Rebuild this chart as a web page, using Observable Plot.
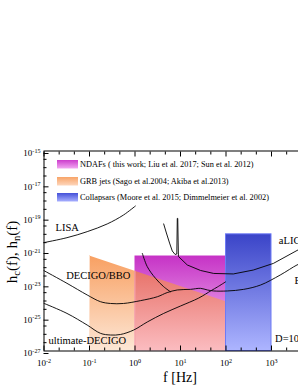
<!DOCTYPE html>
<html><head><meta charset="utf-8">
<script src="https://cdn.jsdelivr.net/npm/d3@7"></script>
<script src="https://cdn.jsdelivr.net/npm/@observablehq/plot@0.6"></script>
<style>
html,body{margin:0;padding:0;background:#fff;overflow:hidden;width:298px;height:385px}
#chart{position:relative;width:298px;height:385px;overflow:hidden}
#chart svg{max-width:none !important;width:330px !important;height:385px !important;display:block}
</style></head><body><div id="chart"></div>
<script>
// ---- detector sensitivity curves (f in Hz, strain) ----
const lisaF = [0.01, 0.032, 0.089, 0.245, 0.56, 1.02];
const lisaH = [3.2e-21, 6.3e-21, 1.45e-20, 4.2e-20, 1.45e-19, 5.0e-19];

const decigoF = [0.01, 0.032, 0.089, 0.174, 0.29, 0.56, 1.32, 3.1, 5.1, 8.5, 16.6, 27.5, 38.9, 53.7, 107, 245, 575, 1550, 3630, 4470];
const decigoH = [6.6e-23, 1.15e-23, 2.3e-24, 9.1e-25, 7.1e-25, 7.1e-25, 1.05e-24, 1.8e-24, 3.2e-24, 4.6e-24, 5.0e-24, 5.75e-24, 4.6e-24, 4.0e-24, 4.0e-24, 5.0e-24, 9.1e-24, 3.6e-23, 1.45e-22, 1.8e-22];

const etLowF = [1.45, 1.86, 2.82, 4.27, 6.0];
const etLowH = [7.2e-22, 1.15e-22, 2.3e-23, 7.2e-24, 3.6e-24];

const uDecigoF = [0.01, 0.032, 0.089, 0.174, 0.29, 0.48, 0.93, 1.86, 4.27, 10, 25.1, 47.9, 64.6, 97.7];
const uDecigoH = [7.2e-25, 1.8e-25, 3.6e-26, 1.15e-26, 9.1e-27, 9.8e-27, 1.8e-26, 5.5e-26, 1.8e-25, 5.0e-25, 1.5e-24, 4.3e-24, 6.9e-24, 1.4e-23];

const aligoF = [4.27, 4.9, 5.75, 6.6, 7.6, 8.3, 8.5, 8.7, 9.0, 14.1, 27.5, 53.7, 145, 398, 1100, 3630, 4570];
const aligoH = [4.2e-20, 1.2e-20, 3.0e-21, 1.0e-21, 6.2e-22, 6.6e-22, 9.1e-20, 9.1e-20, 4.7e-22, 1.45e-22, 6.8e-23, 4.5e-23, 4.2e-23, 7.2e-23, 1.8e-22, 1.07e-21, 1.5e-21];

// ---- source regions ----
const hBottom = 1e-27;
const grbF = [0.1, 1, 100];
const grbTop = [5e-22, 6.1e-23, 9e-25];
const ndafF = [1, 100];
const ndafTop = 5e-22;
const collapsarF = [100, 1000];
const collapsarTop = 1e-20;

// ---- tick values ----
const xMajor = [1e-2, 1e-1, 1, 10, 100, 1000, 1e4];
const yMajor = [1e-15, 1e-17, 1e-19, 1e-21, 1e-23, 1e-25, 1e-27];

// ---- annotations ----
const labelText = ["LISA", "DECIGO/BBO", "ultimate-DECIGO", "aLIGO", "ET", "D=10 kpc"];
const labelF = [0.0179, 0.0308, 0.0126, 1450, 3200, 1200];
const labelH = [2.6e-20, 3.2e-23, 4.0e-27, 4.0e-21, 1.6e-23, 5.8e-27];

const legendText = [
  "NDAFs ( this work; Liu et al. 2017; Sun et al. 2012)",
  "GRB jets (Sago et al.2004; Akiba et al.2013)",
  "Collapsars (Moore et al. 2015; Dimmelmeier et al. 2002)"
];

const xMinor = [];
for (let n = -2; n <= 3; n++) { xMinor.push(Math.pow(10, n + 1/3), Math.pow(10, n + 2/3)); }
const yMinor = [];
for (let k = -15; k >= -27; k -= 0.5) { if (!(Number.isInteger(k) && Math.abs(k) % 2 === 1)) yMinor.push(Math.pow(10, k)); }

const toRows = (F, H) => F.map((f, i) => ({f, h: H[i]}));
const expFmt = d => String(Math.round(Math.log10(d)));
const serif = "Liberation Serif, Times New Roman, serif";

const grbRows = toRows(grbF, grbTop);
const lineStyle = {x: "f", y: "h", stroke: "black", strokeWidth: 0.9};

const svg = Plot.plot({
  width: 330, height: 385,
  marginTop: 150.5, marginBottom: 34.5, marginLeft: 43.5, marginRight: 13.5,
  style: {fontFamily: serif, fontSize: "9px", background: "white", color: "black"},
  x: {type: "log", domain: [1e-2, 1e4]},
  y: {type: "log", domain: [1e-27, 1e-15]},
  marks: [
    Plot.rect([0], {x1: ndafF[0], x2: ndafF[1], y1: hBottom, y2: ndafTop, fill: "url(#gMag)"}),
    Plot.areaY(grbRows.filter(d => d.f <= 1), {x: "f", y1: hBottom, y2: "h", fill: "url(#gOr)"}),
    Plot.areaY(grbRows.filter(d => d.f >= 1), {x: "f", y1: hBottom, y2: "h", fill: "url(#gSal)"}),
    Plot.ruleX([grbF[0]], {y1: hBottom, y2: grbTop[0], stroke: "#fde0cc", strokeWidth: 1}),
    Plot.ruleX([ndafF[0]], {y1: hBottom, y2: grbTop[1], stroke: "#f6a0a8", strokeWidth: 1}),
    Plot.rect([0], {x1: collapsarF[0], x2: collapsarF[1], y1: hBottom, y2: collapsarTop, fill: "url(#gBlue)", stroke: "#6d7af5", strokeWidth: 1}),
    Plot.line(toRows(lisaF, lisaH), {...lineStyle, curve: "catmull-rom"}),
    Plot.line(toRows(decigoF, decigoH), {...lineStyle, curve: "catmull-rom"}),
    Plot.line(toRows(etLowF, etLowH), {...lineStyle, curve: "catmull-rom"}),
    Plot.line(toRows(uDecigoF, uDecigoH), {...lineStyle, curve: "catmull-rom"}),
    Plot.line(toRows(aligoF, aligoH), {...lineStyle, curve: "linear"}),
    Plot.text(labelText, {x: (d, i) => labelF[i], y: (d, i) => labelH[i], text: d => d, textAnchor: "start", fontSize: 10.5, fontFamily: serif, fill: "black"}),
    Plot.frame({stroke: "black", strokeWidth: 1}),
    Plot.axisX(xMajor, {anchor: "bottom", tickSize: -5, tickPadding: 14, tickFormat: expFmt, fontSize: 9, label: null}),
    Plot.axisX(xMinor, {anchor: "bottom", tickSize: -3, fill: "none", label: null}),
    Plot.axisX(xMajor, {anchor: "top", tickSize: -5, fill: "none", label: null}),
    Plot.axisX(xMinor, {anchor: "top", tickSize: -3, fill: "none", label: null}),
    Plot.axisY(yMajor, {anchor: "left", tickSize: -5, tickPadding: 8.5, tickFormat: expFmt, fontSize: 9, dy: 2.5, label: null}),
    Plot.axisY(yMinor, {anchor: "left", tickSize: -3, fill: "none", label: null})
  ]
});

const S = d3.select(svg);
const defs = S.insert("defs", ":first-child");
function grad(id, top, bottom) {
  const g = defs.append("linearGradient").attr("id", id).attr("x1", 0).attr("y1", 0).attr("x2", 0).attr("y2", 1);
  g.append("stop").attr("offset", "0%").attr("stop-color", top);
  g.append("stop").attr("offset", "100%").attr("stop-color", bottom);
}
grad("gOr", "#f8a062", "#fde7d6");
grad("gSal", "#e8736a", "#fbbcc0");
grad("gMag", "#c632c6", "#f8d0f8");
grad("gBlue", "#3a44c8", "#adb5ff");
grad("gMagL", "#cc3ccc", "#f2a8f2");
grad("gOrL", "#f8a468", "#fdd6bc");
grad("gBlueL", "#4450d8", "#a8b0ff");

// superscript exponents on tick labels
S.selectAll('g[aria-label="x-axis tick label"] text, g[aria-label="y-axis tick label"] text').each(function() {
  const e = this.textContent;
  if (!e) return;
  this.textContent = "10";
  d3.select(this).append("tspan").attr("dy", "-0.6em").attr("font-size", "0.68em").text(e);
});

// axis titles
const xt = S.append("text").attr("x", 180).attr("y", 382).attr("text-anchor", "middle")
  .attr("font-family", serif).attr("font-size", 14).attr("fill", "black").text("f [Hz]");
const yt = S.append("text").attr("transform", "translate(17,252) rotate(-90)").attr("text-anchor", "middle")
  .attr("font-family", serif).attr("font-size", 15).attr("fill", "black");
yt.append("tspan").text("h");
yt.append("tspan").attr("font-size", "0.7em").attr("dy", "0.3em").text("c");
yt.append("tspan").attr("dy", "-0.21em").text("(f), h");
yt.append("tspan").attr("font-size", "0.7em").attr("dy", "0.3em").text("n");
yt.append("tspan").attr("dy", "-0.21em").text("(f)");

// legend
const lg = S.append("g").attr("font-family", serif).attr("font-size", 8.3).attr("text-anchor", "start");
const swatch = ["url(#gMagL)", "url(#gOrL)", "url(#gBlueL)"];
const rowY = [160, 177, 193];
legendText.forEach((t, i) => {
  lg.append("rect").attr("x", 57).attr("y", rowY[i]).attr("width", 21).attr("height", 8.5).attr("fill", swatch[i]);
  lg.append("text").attr("x", 80).attr("y", rowY[i] + 7).attr("fill", "black").text(t);
});

document.getElementById("chart").appendChild(svg);
</script>
</body></html>
